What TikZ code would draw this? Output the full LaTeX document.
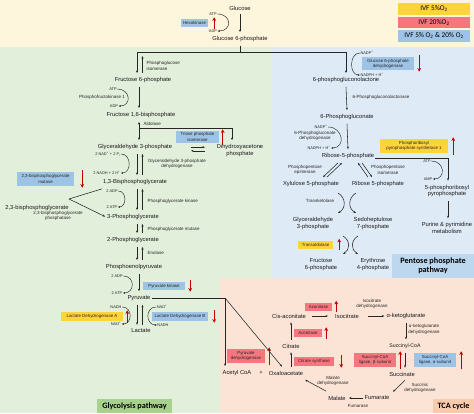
\documentclass[tikz,border=0pt]{standalone}
\usepackage{fontspec}
\setmainfont{Liberation Sans}
\newfontfamily\calib{Carlito}
\usetikzlibrary{arrows.meta}

\definecolor{bgtop}{HTML}{FEF5DD}
\definecolor{bggly}{HTML}{E2EFDA}
\definecolor{bgppp}{HTML}{DEEBF7}
\definecolor{bgtca}{HTML}{FBE4D6}
\definecolor{encblue}{HTML}{9DC3E6}
\definecolor{encred}{HTML}{F4777F}
\definecolor{encyel}{HTML}{FFD43B}
\definecolor{sigred}{HTML}{C00000}
\definecolor{labgly}{HTML}{A9D18E}
\definecolor{labppp}{HTML}{BDD7EE}
\definecolor{labtca}{HTML}{F8CBAD}

\tikzset{
  met/.style={font=\fontsize{5.8}{6.8}\selectfont, inner xsep=1pt, inner ysep=4pt, align=center, text=black!90},
  enz/.style={font=\fontsize{4.5}{5.4}\selectfont, inner sep=0.5pt, align=center, text=black!85},
  cof/.style={font=\fontsize{3.9}{4.5}\selectfont, inner sep=0.5pt, text=black!85},
  ebox/.style={font=\fontsize{4.4}{5.2}\selectfont, align=center, inner sep=0pt, text=black!85},
  bluebox/.style={ebox, fill=encblue},
  redbox/.style={ebox, fill=encred},
  yelbox/.style={ebox, fill=encyel},
  arr/.style={-{Stealth[length=2.6pt,width=2pt]}, line width=0.55pt, black!85},
  biarr/.style={{Stealth[length=2.6pt,width=2pt]}-{Stealth[length=2.6pt,width=2pt]}, line width=0.55pt, black!85},
  plain/.style={line width=0.55pt, black!85},
  cofarr/.style={-{Stealth[length=2.2pt,width=1.9pt]}, line width=0.45pt, black!85},
  sig/.style={-{Stealth[length=3.6pt,width=3.8pt]}, line width=1.2pt, sigred},
  pathlab/.style={font=\calib\bfseries\fontsize{8.2}{9}\selectfont, align=center, inner sep=0pt},
  legend/.style={font=\calib\fontsize{7.2}{8}\selectfont, minimum width=72pt, minimum height=11.5pt, inner sep=0pt},
}

% red change marks beside an enzyme box
\newcommand{\upsig}[2]{\draw[sig] ([xshift=#2,yshift=-1.5pt]#1.south east) -- ([xshift=#2,yshift=1.5pt]#1.north east);}
\newcommand{\downsig}[2]{\draw[sig] ([xshift=#2,yshift=1.5pt]#1.north east) -- ([xshift=#2,yshift=-1.5pt]#1.south east);}

\begin{document}
\begin{tikzpicture}[x=1pt,y=-1pt]
\useasboundingbox (0,0) rectangle (474,413);

% backgrounds
\fill[bgtop] (0,0) rectangle (474,47);
\fill[bggly] (0,47) rectangle (272,413);
\fill[bgppp] (272,47) rectangle (474,278);
\fill[bgtca] (220,278) rectangle (474,413);

% legend
\node[legend, fill=encyel] (leg5) at (434,9) {IVF 5\%O\textsubscript{2}};
\node[legend, fill=encred] (leg20) at (434,22.5) {IVF 20\%O\textsubscript{2}};
\node[legend, fill=encblue] (legboth) at (434,36) {IVF 5\% O\textsubscript{2} \& 20\% O\textsubscript{2}};

% pathway labels
\node[pathlab, fill=labgly, minimum width=75pt, minimum height=14pt] (glylab) at (134.5,406) {Glycolysis pathway};
\node[pathlab, fill=labppp, minimum width=82pt, minimum height=24pt] (ppplab) at (433,266) {Pentose phosphate\\pathway};
\node[pathlab, fill=labtca, minimum width=41pt, minimum height=14pt] (tcalab) at (453.5,406) {TCA cycle};

% glycolysis metabolites
\node[met] (glc) at (240,8) {Glucose};
\node[met] (g6p) at (240,39) {Glucose 6-phosphate};
\node[met] (f6p) at (143,80) {Fructose 6-phosphate};
\node[met] (f16bp) at (141,115) {Fructose 1,6-bisphosphate};
\node[met] (gap) at (135,147) {Glyceraldehyde 3-phosphate};
\node[met] (dhap) at (240,150.5) {Dihydroxyacetone\\phosphate};
\node[met] (bpg13) at (135,182) {1,3-Bisphosphoglycerate};
\node[met] (bpg23) at (37,208) {2,3-bisphosphoglycerate};
\node[met] (pg3) at (133,217) {3-Phosphoglycerate};
\node[met] (pg2) at (133,240) {2-Phosphoglycerate};
\node[met] (pep) at (134,267) {Phosphoenolpyruvate};
\node[met] (pyr) at (139,298) {Pyruvate};
\node[met] (lac) at (141,331) {Lactate};

% pentose phosphate metabolites
\node[met] (pgl) at (346,80) {6-phosphogluconolactone};
\node[met] (pg6) at (347,117) {6-Phosphogluconate};
\node[met] (r5pa) at (348,156) {Ribose-5-phosphate};
\node[met] (xu5p) at (311,184) {Xylulose 5-phosphate};
\node[met] (r5pb) at (378,184) {Ribose 5-phosphate};
\node[met] (gap2) at (313,223.5) {Glyceraldehyde\\3-phosphate};
\node[met] (s7p) at (373,223.5) {Sedoheptulose\\7-phosphate};
\node[met] (f6p2) at (321,264.5) {Fructose\\6-phosphate};
\node[met] (e4p) at (373,264.5) {Erythrose\\4-phosphate};
\node[met] (prpp) at (447,191) {5-phosphoribosyl\\pyrophosphate};
\node[met] (pur) at (447,228) {Purine \& pyrimidine\\metabolism};

% TCA metabolites
\node[met] (accoa) at (237,373) {Acetyl CoA};
\node[met] (plus) at (261,373) {+};
\node[met] (oaa) at (286,373) {Oxaloacetate};
\node[met] (cit) at (291,346) {Citrate};
\node[met] (cisaco) at (289,316) {Cis-aconitate};
\node[met] (icit) at (347,316) {Isocitrate};
\node[met] (akg) at (406,316) {α-ketoglutarate};
\node[met, font=\fontsize{5.2}{6}\selectfont] (succoa) at (405,346) {Succinyl-CoA};
\node[met] (succ) at (402,374) {Succinate};
\node[met] (fum) at (377,398) {Fumarate};
\node[met] (mal) at (337,398) {Malate};

% enzyme names
\node[enz, anchor=west, align=left] (pgi) at (146,66) {Phosphoglucose\\isomerase};
\node[enz] (pfk) at (102,97) {Phosphofructokinase 1};
\node[enz, anchor=west] (ald) at (143,124) {Aldolase};
\node[enz] (gapdh) at (177,164) {Glyceraldehyde 3-phosphate\\dehydrogenase};
\node[enz, anchor=west] (pgk) at (147,201) {Phosphoglycerate kinase};
\node[enz, anchor=west] (pgm) at (147,229) {Phosphoglycerate mutase};
\node[enz, anchor=west] (eno) at (147,253) {Enolase};
\node[enz] (bpgp) at (58,216) {2,3-bisphosphoglycerate\\phosphatase};
\node[enz, anchor=west] (pgls) at (352,97) {6-Phosphogluconolactonase};
\node[enz] (pgd) at (315,136) {6-Phosphogluconate\\dehydrogenase};
\node[enz] (rpe) at (305,170) {Phosphopentose\\epimerase};
\node[enz] (rpi) at (388,170) {Phosphopentose\\isomerase};
\node[enz] (tkt) at (320,201) {Transketolase};
\node[enz] (idh) at (372,304) {Isocitrate\\dehydrogenase};
\node[enz] (ogdh) at (424,329.5) {α-ketoglutarate\\dehydrogenase};
\node[enz] (mdh) at (333,381) {Malate\\dehydrogenase};
\node[enz] (sdh) at (420,388) {Succinic\\dehydrogenase};
\node[enz] (fh) at (358,406) {Fumarase};

% enzyme boxes
\node[bluebox, minimum width=27pt, minimum height=8pt] (hk) at (194.5,23) {Hexokinase};
\node[bluebox, minimum width=43pt, minimum height=12pt] (tpi) at (197.5,137) {Triose phosphate\\isomerase};
\node[bluebox, minimum width=57pt, minimum height=14pt] (bpgm) at (45.5,179) {2,3-bisphosphoglycerate\\mutase};
\node[bluebox, minimum width=42pt, minimum height=8pt] (pk) at (164,286) {Pyruvate kinase};
\node[yelbox, minimum width=62pt, minimum height=9pt] (ldha) at (92,316.5) {Lactate Dehydrogenase A};
\node[bluebox, minimum width=56pt, minimum height=9pt] (ldhb) at (180,316.5) {Lactate Dehydrogenase B};
\node[bluebox, minimum width=52pt, minimum height=13pt] (g6pd) at (388,63.5) {Glucose 6-phosphate\\dehydrogenase};
\node[yelbox, minimum width=68pt, minimum height=14pt] (prps) at (414,146) {Phosphoribosyl\\pyrophosphate synthetase 1};
\node[yelbox, minimum width=35pt, minimum height=8pt] (tald) at (315.5,244.5) {Transaldolase};
\node[redbox, minimum width=27pt, minimum height=8pt] (acoA) at (318.5,306.5) {Aconitase};
\node[redbox, minimum width=28pt, minimum height=8pt] (acoB) at (308,333) {Aconitase};
\node[redbox, minimum width=40pt, minimum height=9pt] (cs) at (314,361.5) {Citrate synthase};
\node[redbox, minimum width=38pt, minimum height=14pt] (pdh) at (246,356) {Pyruvate\\dehydrogenase};
\node[redbox, minimum width=42pt, minimum height=14pt] (scsb) at (375,360) {Succinyl-CoA\\ligase, β-subunit};
\node[bluebox, minimum width=42pt, minimum height=14pt] (scsa) at (435,360) {Succinyl-CoA\\ligase, α-subunit};

\upsig{hk}{6pt}
\upsig{tpi}{3.5pt}
\downsig{bpgm}{8pt}
\downsig{pk}{5pt}
\upsig{ldha}{4pt}
\downsig{ldhb}{6pt}
\downsig{g6pd}{5pt}
\upsig{prps}{5pt}
\upsig{tald}{6pt}
\upsig{acoA}{4pt}
\upsig{acoB}{4pt}
\downsig{cs}{7pt}
\upsig{pdh}{4pt}
\upsig{scsb}{4pt}
\upsig{scsa}{5pt}

% cofactors
\node[cof] (atp1) at (213,14) {ATP};
\node[cof] (adp1) at (213,31) {ADP};
\node[cof] (atp2) at (113,89) {ATP};
\node[cof] (adp2) at (114,106) {ADP};
\node[cof, anchor=east] (nad1) at (121,154) {2 NAD\textsuperscript{+} + 2 P\textsubscript{i}};
\node[cof, anchor=east] (nadh1) at (121,173) {2 NADH + 2 H\textsuperscript{+}};
\node[cof] (adp3) at (112,191) {2 ADP};
\node[cof] (atp3) at (112,207) {2 ATP};
\node[cof] (adp4) at (117,276) {2 ADP};
\node[cof] (atp4) at (117,293) {2 ATP};
\node[cof] (nadh2) at (116,307) {NADH};
\node[cof] (nad2) at (116,324) {NAD\textsuperscript{+}};
\node[cof] (nad3) at (162,307) {NAD\textsuperscript{+}};
\node[cof] (nadh3) at (163,325) {NADH};
\node[cof] (nadp1) at (367,53) {NADP\textsuperscript{+}};
\node[cof] (nadph1) at (372,75) {NADPH + H\textsuperscript{+}};
\node[cof] (nadp2) at (321,127) {NADP\textsuperscript{+}};
\node[cof] (nadph2) at (319,148) {NADPH + H\textsuperscript{+}};
\node[cof] (atp5) at (427,161) {ATP};
\node[cof] (amp5) at (428,179) {AMP};

\draw[cofarr] (atp1.east) to[out=0, in=0, looseness=2.2] (adp1.east);
\draw[cofarr] (atp2.east) to[out=0, in=0, looseness=2] (adp2.east);
\draw[cofarr] (nad1.east) to[out=0, in=0, looseness=1.45] (nadh1.east);
\draw[cofarr] (adp3.east) to[out=0, in=0, looseness=1.4] (atp3.east);
\draw[cofarr] (adp4.east) to[out=0, in=0, looseness=1.8] (atp4.east);
\draw[cofarr] (nadh2.east) to[out=0, in=0, looseness=1.6] (nad2.east);
\draw[cofarr] (nad3.west) to[out=180, in=180, looseness=1.6] (nadh3.west);
\draw[cofarr] (nadp1.west) to[out=180, in=180, looseness=1.25] (nadph1.west);
\draw[cofarr] (nadp2.east) to[out=0, in=0, looseness=1.8] (nadph2.east);
\draw[cofarr] (atp5.east) to[out=0, in=0, looseness=1.9] (amp5.east);

% columns of the glycolysis arrows
\coordinate (colA) at (137,0);
\coordinate (colB) at (142.5,0);
\coordinate (colM) at (139,0);

% glycolysis
\draw[arr] (glc.south) -- (g6p.north);
\coordinate (split) at (240,52);
\draw[plain] (g6p.south) -- (split);
\draw[arr] (split) -| (f6p.north -| colA);
\draw[arr] (split) -| (pgl.north);
\draw[arr] (f6p.north -| colB) -- ++(0,-17);
\draw[arr] (f6p.south -| colM) -- (f16bp.north -| colM);
\draw[biarr] (f16bp.south -| colM) -- (gap.north -| colM);
\coordinate (aldj) at (139,128);
\draw[arr] (aldj) -| ([xshift=-8pt]dhap.north);
\coordinate (tpiL) at (191,149);
\coordinate (tpiR) at (205,149);
\draw[arr] ([yshift=1.8pt]tpiL) -- ([yshift=1.8pt]tpiR);
\draw[arr] ([yshift=-1.8pt]tpiR) -- ([yshift=-1.8pt]tpiL);

\draw[arr] (gap.south -| colA) -- (bpg13.north -| colA);
\draw[arr] (bpg13.north -| colB) -- (gap.south -| colB);
\draw[arr] (bpg13.south -| colA) -- (pg3.north -| colA);
\draw[arr] (pg3.north -| colB) -- (bpg13.south -| colB);
\draw[arr] (pg3.south -| colA) -- (pg2.north -| colA);
\draw[arr] (pg2.north -| colB) -- (pg3.south -| colB);
\draw[arr] (pg2.south -| colA) -- (pep.north -| colA);
\draw[arr] (pep.north -| colB) -- (pg2.south -| colB);
\draw[arr] (pep.south -| colM) -- (pyr.north -| colM);
\draw[arr] (pyr.south -| colA) -- (lac.north -| colA);
\draw[arr] (lac.north -| colB) -- (pyr.south -| colB);

\coordinate (shunt) at (69,199);
\draw[plain] (bpg13.south west) -- (shunt);
\draw[arr, shorten >=1pt] (shunt) -- (pg3.west);

% pyruvate into the TCA cycle
\coordinate (pdhj) at (225,298);
\draw[plain] (pyr.east) -- (pdhj);
\draw[arr] (pdhj) -- (pdhj |- accoa.north);
\draw[arr] (pdhj) -- ([xshift=-4pt]oaa.north);

% TCA cycle
\draw[arr] (oaa.north -| cit) -- (cit.south);
\draw[arr] (cit.north) -- (cisaco.south -| cit);
\draw[arr, shorten <=5pt, shorten >=6pt] (cisaco.east) -- (icit.west);
\draw[arr, shorten <=8pt, shorten >=1pt] (icit.east) -- (akg.west);
\draw[arr] (akg.south) -- (akg.south |- succoa.north);
\draw[arr] (succoa.south) -- (succoa.south |- succ.north);
\draw[arr] ([xshift=3pt]succ.south) -- ([xshift=16pt]fum.north);
\draw[arr, shorten >=2pt] (fum.west) -- (mal.east);
\draw[arr, shorten <=1pt, shorten >=1pt] (mal.north west) -- (oaa.south east);

% pentose phosphate pathway
\draw[arr] (pgl.south) -- (pg6.north);
\draw[arr] (pg6.south) -- (r5pa.north);
\draw[arr] ([yshift=-2pt]r5pa.east) -| ([xshift=1pt]prpp.north);
\draw[arr] ([xshift=1pt]prpp.south) -- ([xshift=1pt]pur.north);
\draw[arr] ([xshift=-10pt]r5pa.south) -- ([xshift=12pt]xu5p.north);
\draw[arr] ([xshift=16pt]xu5p.north) -- ([xshift=-6pt]r5pa.south);
\draw[arr] ([xshift=-10pt]r5pb.north) -- ([xshift=10pt]r5pa.south);
\draw[arr] ([xshift=14pt]r5pa.south) -- ([xshift=-6pt]r5pb.north);

\coordinate (tkA) at (338,193);
\coordinate (tkB) at (338,213);
\coordinate (tkC) at (356,193);
\coordinate (tkD) at (356,213);
\draw[arr] (tkA) to[out=-30, in=30, looseness=1.2] (tkB);
\draw[arr] (tkC) to[out=210, in=150, looseness=1.2] (tkD);
\coordinate (taA) at (343,236);
\coordinate (taB) at (343,254);
\coordinate (taC) at (358,236);
\coordinate (taD) at (358,254);
\draw[arr] (taA) to[out=-30, in=30, looseness=1.2] (taB);
\draw[arr] (taC) to[out=210, in=150, looseness=1.2] (taD);

\end{tikzpicture}
\end{document}
